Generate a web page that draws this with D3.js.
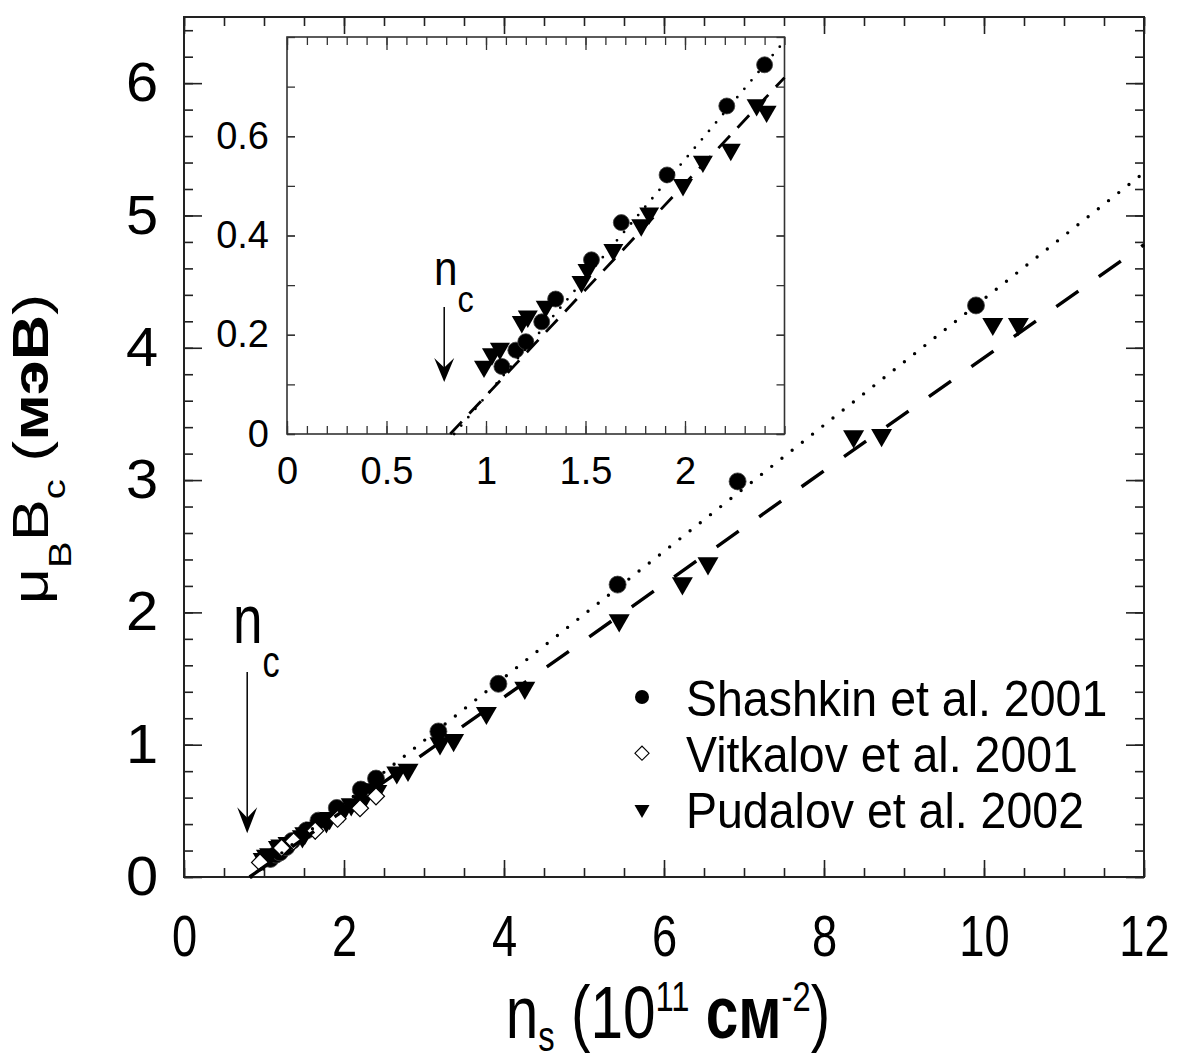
<!DOCTYPE html>
<html>
<head>
<meta charset="utf-8">
<script src="https://cdn.jsdelivr.net/npm/d3@7"></script>
<style>
  html, body { margin: 0; padding: 0; background: #fff; }
  svg { display: block; }
  text { font-family: "Liberation Sans", Arial, Helvetica, sans-serif; fill: #000; }
</style>
</head>
<body>
<svg id="chart" width="1180" height="1064"></svg>
<script>
// Critical Zeeman energy μB·Bc (meV) versus electron density n_s (10^11 cm^-2)
const shashkin = [
  [1.08, 0.136], [1.15, 0.169], [1.20, 0.186], [1.28, 0.226], [1.35, 0.272],
  [1.53, 0.351], [1.68, 0.426], [1.91, 0.522], [2.21, 0.661], [2.40, 0.744],
  [3.18, 1.10], [3.93, 1.46], [5.42, 2.21], [6.92, 2.99], [9.90, 4.32]
];
const vitkalov = [
  [0.95, 0.11], [1.22, 0.22], [1.37, 0.27], [1.64, 0.35], [1.92, 0.44],
  [2.20, 0.52], [2.40, 0.61]
];
const pudalov = [
  [0.99, 0.136], [1.03, 0.161], [1.07, 0.172], [1.18, 0.226], [1.21, 0.237],
  [1.30, 0.257], [1.48, 0.307], [1.51, 0.331], [1.64, 0.371], [1.78, 0.421],
  [1.82, 0.445], [1.99, 0.502], [2.09, 0.549], [2.23, 0.573], [2.36, 0.663],
  [2.41, 0.650], [2.66, 0.79], [2.80, 0.81], [3.20, 1.01], [3.37, 1.035],
  [3.78, 1.24], [4.26, 1.43], [5.44, 1.94], [6.23, 2.22], [6.55, 2.37],
  [8.37, 3.33], [8.72, 3.34], [10.11, 4.18], [10.43, 4.18]
];

// Linear fits μB·Bc = slope·(n_s − onset)
const fitSlopes = [0.477, 0.4275];   // dotted (Shashkin), dashed (Pudalov)
const fitOnsets = [0.84, 0.82];
const criticalDensity = 0.79;

const legendLabels = ["Shashkin et al. 2001", "Vitkalov et al. 2001", "Pudalov et al. 2002"];

const mainXTicks = [0, 2, 4, 6, 8, 10, 12];
const mainYTicks = [0, 1, 2, 3, 4, 5, 6];
const insetXTicks = [0, 0.5, 1, 1.5, 2];
const insetYTicks = [0, 0.2, 0.4, 0.6];

const SQ = 0.78; // horizontal squeeze of the narrow lettering
const svg = d3.select("#chart");

const xMain = d3.scaleLinear().domain([0, 12]).range([184, 1144]);
const yMain = d3.scaleLinear().domain([0, 6.5]).range([877, 17]);
const xIn = d3.scaleLinear().domain([0, 2.5]).range([287, 784.5]);
const yIn = d3.scaleLinear().domain([0, 0.8]).range([434, 37]);

// inward ticks on all four sides of a frame
function frame(g, x, y, o) {
  const [xa, xb] = x.range(), [ya, yb] = y.range();
  g.append("rect").attr("x", xa).attr("y", yb).attr("width", xb - xa).attr("height", ya - yb)
    .attr("fill", o.fill).attr("stroke", o.color).attr("stroke-width", o.frameW);
  const ax = (gen, scale, values, len, tx, ty) => g.append("g")
    .attr("transform", `translate(${tx},${ty})`)
    .call(gen(scale).tickValues(values).tickSize(-len).tickFormat(""))
    .call(s => s.select(".domain").remove())
    .call(s => s.selectAll("text").remove())
    .call(s => s.selectAll("line").attr("stroke", o.color).attr("stroke-width", o.tickW));
  ax(d3.axisBottom, x, o.xMinor, o.xMinorLen, 0, ya);
  ax(d3.axisBottom, x, o.xMajor, o.xMajorLen, 0, ya);
  ax(d3.axisTop, x, o.xMinor, o.xMinorLen, 0, yb);
  ax(d3.axisTop, x, o.xMajor, o.xMajorLen, 0, yb);
  ax(d3.axisLeft, y, o.yMinor, o.yMinorLen, xa, 0);
  ax(d3.axisLeft, y, o.yMajor, o.yMajorLen, xa, 0);
  ax(d3.axisRight, y, o.yMinor, o.yMinorLen, xb, 0);
  ax(d3.axisRight, y, o.yMajor, o.yMajorLen, xb, 0);
}

function tickLabels(g, x, y, o) {
  const ya = y.range()[0], xa = x.range()[0];
  g.append("g").attr("transform", `translate(0,${ya})`)
    .call(d3.axisBottom(x).tickValues(o.xTicks).tickSize(0).tickPadding(o.xPad).tickFormat(d3.format("")))
    .call(s => s.select(".domain").remove())
    .call(s => s.selectAll("text").attr("font-size", o.xFont).attr("font-family", null)
      .attr("transform", `scale(${o.xSq},1)`));
  g.append("g").attr("transform", `translate(${xa},0)`)
    .call(d3.axisLeft(y).tickValues(o.yTicks).tickSize(0).tickPadding(o.yPad / o.ySq).tickFormat(d3.format("")))
    .call(s => s.select(".domain").remove())
    .call(s => s.selectAll("text").attr("font-size", o.yFont).attr("font-family", null)
      .attr("transform", `scale(${o.ySq},1)`));
}

function fitLines(g, x, y, o) {
  const xmax = x.domain()[1];
  const line = d3.line().x(d => x(d[0])).y(d => y(d[1]));
  fitSlopes.forEach((k, i) => {
    const pts = [[fitOnsets[i], 0], [xmax, k * (xmax - fitOnsets[i])]];
    g.append("path").attr("d", line(pts)).attr("fill", "none").attr("stroke", "#000")
      .attr("stroke-width", o.width)
      .attr("stroke-linecap", i === 0 ? "round" : "butt")
      .attr("stroke-dasharray", i === 0 ? o.dots : o.dashes);
  });
}

const circleSym = r => d3.symbol().type(d3.symbolCircle).size(Math.PI * r * r)();
const triSym = w => d3.symbol().type(d3.symbolTriangle).size(Math.sqrt(3) / 4 * w * w)();
const diaSym = s => d3.symbol().type(d3.symbolSquare).size(s * s)();

function markers(g, x, y, o, withVitkalov) {
  const inside = d => d[0] <= x.domain()[1] && d[1] <= y.domain()[1];
  g.append("g").selectAll("path").data(shashkin.filter(inside)).join("path")
    .attr("d", circleSym(o.r))
    .attr("transform", d => `translate(${x(d[0])},${y(d[1])})`)
    .attr("fill", "#000").attr("stroke", "#444").attr("stroke-width", 0.8);
  g.append("g").selectAll("path").data(pudalov.filter(inside)).join("path")
    .attr("d", triSym(o.tri))
    .attr("transform", d => `translate(${x(d[0])},${y(d[1])}) rotate(180)`)
    .attr("fill", "#000");
  if (withVitkalov) {
    g.append("g").selectAll("path").data(vitkalov.filter(inside)).join("path")
      .attr("d", diaSym(o.dia))
      .attr("transform", d => `translate(${x(d[0])},${y(d[1])}) rotate(45)`)
      .attr("fill", "#fff").attr("stroke", "#000").attr("stroke-width", 1.2);
  }
}

function arrow(g, x, y, from, to, head) {
  const ax = x(criticalDensity), y0 = y(from), y1 = y(to);
  g.append("line").attr("x1", ax).attr("x2", ax).attr("y1", y0).attr("y2", y1 - head.len * 0.5)
    .attr("stroke", "#000").attr("stroke-width", 1.5);
  g.append("path")
    .attr("d", `M${ax},${y1} L${ax - head.w / 2},${y1 - head.len} L${ax},${y1 - head.len * 0.6} L${ax + head.w / 2},${y1 - head.len} Z`)
    .attr("fill", "#000");
}

function nLabel(g, px, py, fn, fc, sq, dx, dy) {
  const t = g.append("text").attr("transform", `translate(${px},${py}) scale(${sq},1)`);
  t.append("tspan").attr("font-size", fn).text("n");
  t.append("tspan").attr("font-size", fc).attr("dx", dx).attr("dy", dy).text("c");
}

// ---------- main panel ----------
const main = svg.append("g");
frame(main, xMain, yMain, {
  fill: "#fff", color: "#222", frameW: 2, tickW: 1.6,
  xMajor: mainXTicks, xMinor: d3.range(0, 12.01, 0.5), xMajorLen: 17, xMinorLen: 9,
  yMajor: mainYTicks, yMinor: d3.range(0, 6.51, 0.2), yMajorLen: 18, yMinorLen: 9
});
tickLabels(main, xMain, yMain, {
  xTicks: mainXTicks, xPad: 38, xFont: 58, xSq: SQ,
  yTicks: mainYTicks, yPad: 26, yFont: 55, ySq: 1.05
});
markers(main, xMain, yMain, { r: 8.5, tri: 21, dia: 12 }, true);
fitLines(main, xMain, yMain, { width: 3.4, dots: "0 13", dashes: "27 25" });
arrow(main, xMain, yMain, 1.55, 0.33, { w: 20, len: 26 });
nLabel(main, 233, 643, 68, 44, SQ, 0, 34);

// axis titles
const xTitle = main.append("text").attr("text-anchor", "middle")
  .attr("transform", `translate(668,1038) scale(${SQ},1)`).attr("font-size", 75);
xTitle.append("tspan").text("n");
xTitle.append("tspan").attr("font-size", 42).attr("dy", 13).text("s");
xTitle.append("tspan").attr("dy", -13).text(" (10");
xTitle.append("tspan").attr("font-size", 42).attr("dy", -27).text("11");
xTitle.append("tspan").attr("dy", 27).attr("font-weight", "bold").text(" см");
xTitle.append("tspan").attr("font-size", 42).attr("dy", -27).text("-2");
xTitle.append("tspan").attr("dy", 27).text(")");

const yTitle = main.append("text").attr("text-anchor", "middle")
  .attr("transform", `translate(48,449) rotate(-90) scale(1,${SQ})`).attr("font-size", 63);
yTitle.append("tspan").text("μ");
yTitle.append("tspan").attr("font-size", 40).attr("dy", 30).text("B");
yTitle.append("tspan").attr("dy", -30).text("B");
yTitle.append("tspan").attr("font-size", 40).attr("dy", 22).text("c");
yTitle.append("tspan").attr("dy", -22).text(" (");
yTitle.append("tspan").attr("font-weight", "bold").text("мэВ");
yTitle.append("tspan").text(")");

// legend
const legend = main.append("g");
const legendSyms = [
  g => g.append("path").attr("d", circleSym(7)).attr("fill", "#000"),
  g => g.append("path").attr("d", diaSym(10)).attr("transform", "rotate(45)")
        .attr("fill", "#fff").attr("stroke", "#000").attr("stroke-width", 1.1),
  g => g.append("path").attr("d", triSym(15)).attr("transform", "rotate(180)").attr("fill", "#000")
];
legendLabels.forEach((label, i) => {
  const by = 716 + i * 56.2;
  const s = legend.append("g").attr("transform", `translate(642,${by - 19})`);
  legendSyms[i](s);
  legend.append("text").attr("transform", `translate(686,${by}) scale(0.93,1)`)
    .attr("font-size", 50).text(label);
});

// ---------- inset ----------
const inset = svg.append("g");
frame(inset, xIn, yIn, {
  fill: "#fff", color: "#333", frameW: 1.6, tickW: 1.3,
  xMajor: insetXTicks, xMinor: d3.range(0, 2.51, 0.1), xMajorLen: 13, xMinorLen: 8,
  yMajor: insetYTicks, yMinor: d3.range(0, 0.81, 0.1), yMajorLen: 8, yMinorLen: 8
});
tickLabels(inset, xIn, yIn, {
  xTicks: insetXTicks, xPad: 23, xFont: 38, xSq: 1,
  yTicks: insetYTicks, yPad: 18, yFont: 38, ySq: 1
});
markers(inset, xIn, yIn, { r: 8, tri: 20, dia: 12 }, false);
fitLines(inset, xIn, yIn, { width: 2.8, dots: "0 11", dashes: "17 11" });
arrow(inset, xIn, yIn, 0.256, 0.105, { w: 20, len: 24 });
nLabel(inset, 434, 285, 48, 37, 0.88, 0, 27);
</script>
</body>
</html>
